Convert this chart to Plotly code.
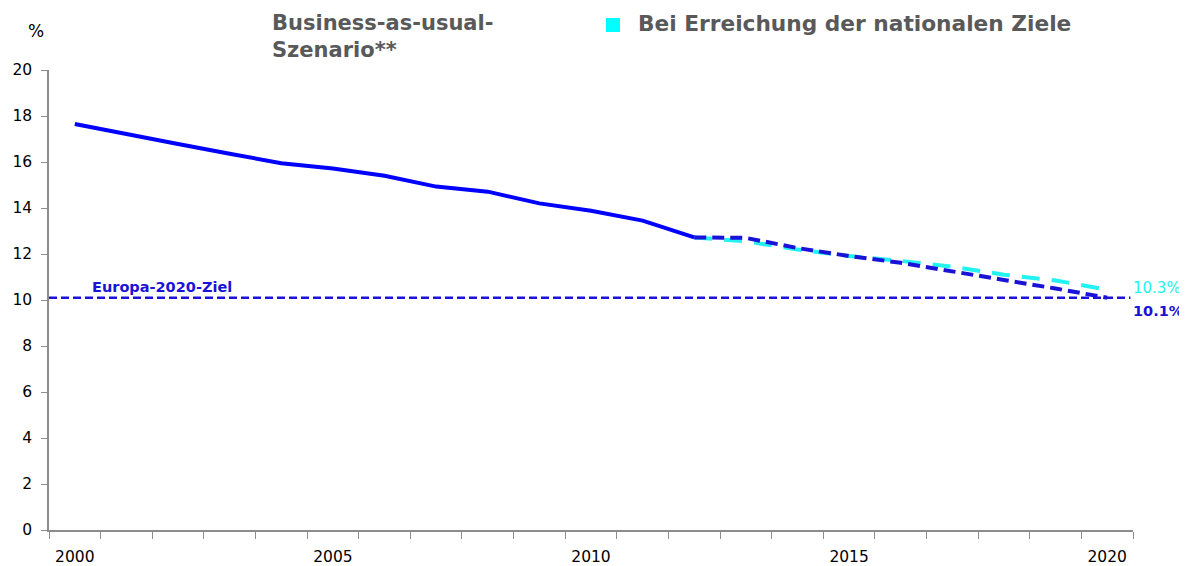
import plotly.graph_objects as go

years = list(range(2000, 2021))
hist_years = list(range(2000, 2013))
hist_values = [17.65, 17.2, 16.78, 16.36, 15.95, 15.72, 15.4, 14.93, 14.71, 14.2, 13.88, 13.45, 12.72]
proj_years = list(range(2012, 2021))
bau_values = [12.72, 12.7, 12.26, 11.91, 11.62, 11.23, 10.87, 10.5, 10.1]
nat_values = [12.72, 12.55, 12.2, 11.91, 11.7, 11.45, 11.1, 10.85, 10.45]
target_value = 10.1
x_tick_years = [2000, 2005, 2010, 2015, 2020]
y_ticks = list(range(0, 21, 2))

FONT = "DejaVu Sans"
BLUE = "#0000ff"
DARK = "#1a12d6"
CYAN = "#22f2f2"

OFF = 8  # page body margin
W, H = 1187 - OFF, 566 - OFF
L, R, T, B = 49 - OFF, 54, 70 - OFF, 36
PW, PH = W - L - R, H - T - B


def px(x):
    return (x - OFF - L) / PW


def py(y):
    return (OFF + T + PH - y) / PH


fig = go.Figure()

fig.add_trace(go.Scatter(x=[1999.5, 2020.45], y=[target_value, target_value], mode="lines",
                         line=dict(color=DARK, width=2.5, dash="8px,4px"), showlegend=False, hoverinfo="skip"))
fig.add_trace(go.Scatter(x=proj_years, y=nat_values, mode="lines",
                         line=dict(color=CYAN, width=4, dash="18px,12px"), showlegend=False))
fig.add_trace(go.Scatter(x=proj_years, y=bau_values, mode="lines",
                         line=dict(color=DARK, width=4, dash="12px,6px"), showlegend=False))
fig.add_trace(go.Scatter(x=hist_years, y=hist_values, mode="lines",
                         line=dict(color=BLUE, width=4), showlegend=False))

fig.update_layout(
    width=W, height=H,
    margin=dict(l=L, r=R, t=T, b=B, autoexpand=False),
    plot_bgcolor="white", paper_bgcolor="white",
    font=dict(family=FONT, size=14, color="#000"),
    showlegend=False,
    xaxis=dict(range=[1999.5, 2020.5], tickvals=x_tick_years, ticktext=[str(y) for y in x_tick_years],
               ticks="", showgrid=False, zeroline=False, showline=True, linecolor="#8c8c8c", linewidth=1.5,
               automargin=False,
               tickfont=dict(family=FONT, size=15.5, color="#000"), ticklabelstandoff=12,
               minor=dict(tickvals=[y - 0.5 for y in years] + [2020.5], ticks="outside", ticklen=7,
                          tickcolor="#8c8c8c", tickwidth=1, showgrid=False)),
    yaxis=dict(range=[0, 20], tickvals=y_ticks, ticks="outside", ticklen=6, tickcolor="#8c8c8c",
               showgrid=False, zeroline=False, showline=True, linecolor="#8c8c8c", linewidth=1.5,
               automargin=False, ticklabelstandoff=6,
               tickfont=dict(family=FONT, size=15.5, color="#000")),
)

fig.add_annotation(xref="paper", yref="paper", x=px(36), y=py(31), text="%", showarrow=False,
                   font=dict(size=17, color="#000"), xanchor="center", yanchor="middle")

fig.add_annotation(xref="paper", yref="paper", x=px(270), y=py(9), xanchor="left", yanchor="top",
                   align="left", showarrow=False,
                   text="<b>Business-as-usual-<br>Szenario**</b>",
                   font=dict(size=21, color="#595959"))
fig.add_shape(type="rect", xref="paper", yref="paper", x0=px(606), x1=px(620),
              y0=py(32), y1=py(18), fillcolor="#00ffff", line=dict(width=0))
fig.add_annotation(xref="paper", yref="paper", x=px(636), y=py(24), xanchor="left", yanchor="middle",
                   showarrow=False, text="<b>Bei Erreichung der nationalen Ziele</b>",
                   font=dict(size=21.7, color="#595959"))

fig.add_annotation(x=2000.3, y=target_value, xanchor="left", yanchor="bottom", yshift=1, showarrow=False,
                   text="<b>Europa-2020-Ziel</b>", font=dict(size=14.5, color=DARK))
fig.add_annotation(x=2020.5, y=nat_values[-1], xanchor="left", yanchor="middle", xshift=-2, yshift=2,
                   showarrow=False, text="10.3%", font=dict(size=15, color=CYAN))
fig.add_annotation(x=2020.5, y=target_value, xanchor="left", yanchor="middle", xshift=-2, yshift=-13,
                   showarrow=False, text="<b>10.1%</b>", font=dict(size=14.5, color=DARK))

fig.write_html("out.html")
